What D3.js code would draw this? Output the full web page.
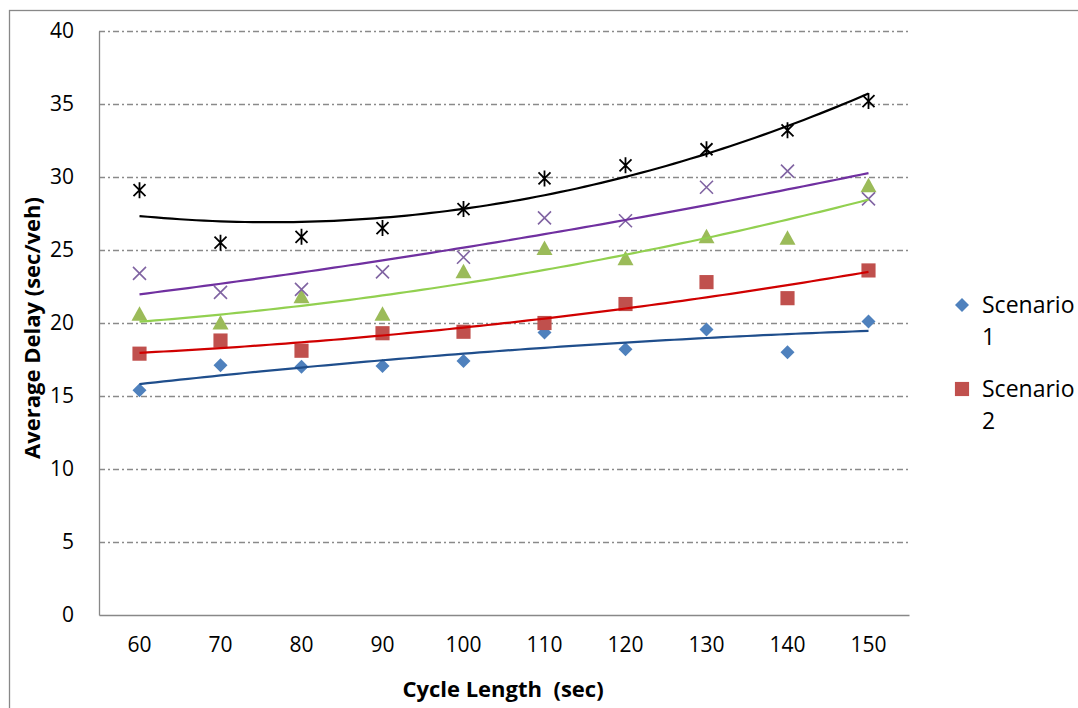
<!DOCTYPE html>
<html>
<head>
<meta charset="utf-8">
<script src="https://cdn.jsdelivr.net/npm/d3@7"></script>
<style>
  html, body { margin: 0; padding: 0; background: #fff; }
  svg { display: block; font-family: "Open Sans", "Noto Sans", sans-serif; }
</style>
</head>
<body>
<svg id="chart" width="1078" height="708"></svg>
<script>
// Cycle length categories (sec)
const cycleLengths = [60, 70, 80, 90, 100, 110, 120, 130, 140, 150];
// Average delay (sec/veh) per scenario
const scenario1 = [15.4, 17.1, 17.0, 17.05, 17.4, 19.35, 18.2, 19.55, 18.0, 20.1];
const scenario2 = [17.9, 18.8, 18.1, 19.3, 19.4, 20.0, 21.3, 22.8, 21.7, 23.6];
const scenario3 = [20.5, 19.9, 21.7, 20.5, 23.4, 25.0, 24.3, 25.8, 25.7, 29.3];
const scenario4 = [23.4, 22.1, 22.3, 23.5, 24.5, 27.2, 27.0, 29.3, 30.4, 28.5];
const scenario5 = [29.1, 25.5, 25.9, 26.5, 27.8, 29.9, 30.8, 31.9, 33.2, 35.2];
const yTicks = [0, 5, 10, 15, 20, 25, 30, 35, 40];
const legendNames = ["Scenario 1", "Scenario 2"];

const series = [
  { values: scenario1, marker: "diamond", fill: "#4F81BD", trend: "#1F4E8C" },
  { values: scenario2, marker: "square", fill: "#C0504D", trend: "#D00000" },
  { values: scenario3, marker: "triangle", fill: "#9BBB59", trend: "#92D050" },
  { values: scenario4, marker: "cross", fill: "#8064A2", trend: "#7030A0" },
  { values: scenario5, marker: "star", fill: "#000000", trend: "#000000" }
];

const svg = d3.select("#chart");
const plot = { left: 99, right: 909, top: 31, bottom: 615 };

// outer chart frame
svg.append("rect")
  .attr("x", 9.5).attr("y", 10.5)
  .attr("width", 1100).attr("height", 720)
  .attr("fill", "none").attr("stroke", "#888").attr("stroke-width", 1.3);

const x = d3.scaleBand().domain(cycleLengths).range([plot.left, plot.right]);
const y = d3.scaleLinear().domain([0, 40]).range([plot.bottom, plot.top]);
const cx = v => x(v) + x.bandwidth() / 2;

// horizontal gridlines
svg.append("g").selectAll("line")
  .data(yTicks.filter(t => t > 0))
  .join("line")
  .attr("x1", plot.left).attr("x2", plot.right)
  .attr("y1", d => Math.round(y(d)) + 0.5).attr("y2", d => Math.round(y(d)) + 0.5)
  .attr("stroke", "#8a8a8a").attr("stroke-width", 1.3)
  .attr("stroke-dasharray", "6,3,2,3");

// axes
const yAxis = d3.axisLeft(y).tickValues(yTicks).tickSize(0).tickPadding(25);
const gy = svg.append("g").attr("transform", `translate(${plot.left},0)`).call(yAxis);
gy.select(".domain").attr("stroke", "#888").attr("stroke-width", 1.3);
gy.selectAll("text").attr("font-size", 21).attr("fill", "#000")
  .attr("font-family", "Open Sans");

const xAxis = d3.axisBottom(x).tickSize(0).tickPadding(22);
const gx = svg.append("g").attr("transform", `translate(0,${plot.bottom})`).call(xAxis);
gx.select(".domain").attr("stroke", "#888").attr("stroke-width", 1.3);
gx.selectAll("text").attr("font-size", 21).attr("fill", "#000")
  .attr("font-family", "Open Sans");

// second-order polynomial trendline (least squares over category index 1..n)
function fitPoly2(vals) {
  const xs = vals.map((_, i) => i + 1);
  const S = k => d3.sum(xs, v => v ** k);
  const T = k => d3.sum(xs, (v, i) => v ** k * vals[i]);
  const A = [[S(0), S(1), S(2)], [S(1), S(2), S(3)], [S(2), S(3), S(4)]];
  const B = [T(0), T(1), T(2)];
  for (let i = 0; i < 3; i++) {
    for (let j = i + 1; j < 3; j++) {
      const f = A[j][i] / A[i][i];
      for (let k = i; k < 3; k++) A[j][k] -= f * A[i][k];
      B[j] -= f * B[i];
    }
  }
  const c = [0, 0, 0];
  for (let i = 2; i >= 0; i--) {
    let s = B[i];
    for (let k = i + 1; k < 3; k++) s -= A[i][k] * c[k];
    c[i] = s / A[i][i];
  }
  return t => c[0] + c[1] * t + c[2] * t * t;
}

// index position (1..n) -> pixel x
const idxX = d3.scaleLinear().domain([1, cycleLengths.length])
  .range([cx(cycleLengths[0]), cx(cycleLengths[cycleLengths.length - 1])]);

function drawMarker(g, type, color) {
  if (type === "diamond") {
    g.append("path").attr("d", d3.symbol().type(d3.symbolSquare).size(98)())
      .attr("transform", "rotate(45)").attr("fill", color);
  } else if (type === "square") {
    g.append("path").attr("d", d3.symbol().type(d3.symbolSquare).size(200)()).attr("fill", color);
  } else if (type === "triangle") {
    g.append("path").attr("d", "M0,-9.5L8,5L-8,5Z").attr("fill", color);
  } else if (type === "cross") {
    g.append("path").attr("d", "M-6.5,-6.5L6.5,6.5M-6.5,6.5L6.5,-6.5")
      .attr("stroke", color).attr("stroke-width", 1.6).attr("fill", "none");
  } else if (type === "star") {
    g.append("path").attr("d", "M-6,-6L6,6M-6,6L6,-6M0,-8L0,8")
      .attr("stroke", color).attr("stroke-width", 1.8).attr("fill", "none");
  }
}

// markers
series.forEach(s => {
  s.values.forEach((v, i) => {
    const g = svg.append("g").attr("transform", `translate(${cx(cycleLengths[i])},${y(v)})`);
    drawMarker(g, s.marker, s.fill);
  });
});

// trendlines
series.forEach(s => {
  const f = fitPoly2(s.values);
  const ts = d3.range(1, cycleLengths.length + 0.001, 0.1);
  const line = d3.line().x(t => idxX(t)).y(t => y(f(t)));
  svg.append("path").datum(ts).attr("d", line)
    .attr("fill", "none").attr("stroke", s.trend).attr("stroke-width", 2.2);
});

// axis titles
svg.append("text")
  .attr("x", 503).attr("y", 697)
  .attr("text-anchor", "middle").attr("font-size", 22).attr("font-weight", "bold")
  .attr("xml:space", "preserve")
  .text("Cycle Length  (sec)");

svg.append("text")
  .attr("transform", "translate(40,328) rotate(-90)")
  .attr("text-anchor", "middle").attr("font-size", 22).attr("font-weight", "bold")
  .text("Average Delay (sec/veh)");

// legend
const legend = svg.append("g");
legendNames.forEach((name, i) => {
  const s = series[i];
  const gy0 = 305 + i * 84;
  const m = legend.append("g").attr("transform", `translate(962,${gy0})`);
  drawMarker(m, s.marker, s.fill);
  const parts = name.split(" ");
  const t = legend.append("text").attr("x", 982).attr("y", gy0 + 8)
    .attr("font-size", 23);
  t.append("tspan").attr("x", 982).text(parts[0]);
  t.append("tspan").attr("x", 982).attr("dy", 32).text(parts[1]);
});
</script>
</body>
</html>
